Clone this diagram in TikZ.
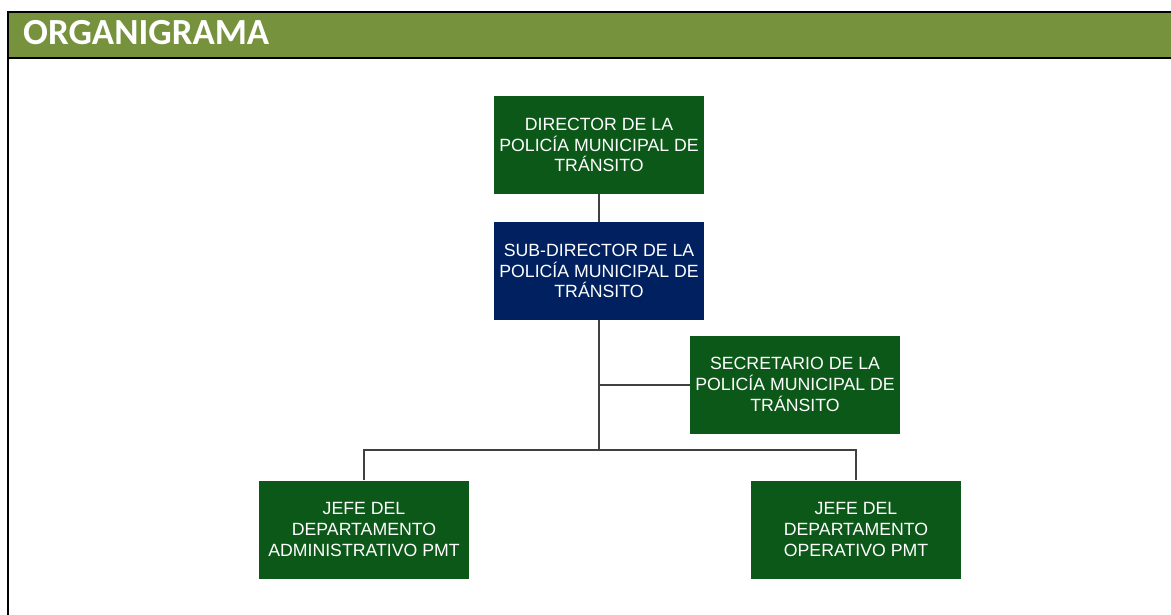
\documentclass[tikz,border=0pt]{standalone}
\usepackage{fontspec}
\setmainfont{Liberation Sans}
\newfontfamily\headfont{Carlito}
\definecolor{headgreen}{RGB}{118,146,60}
\definecolor{boxgreen}{RGB}{12,88,24}
\definecolor{boxnavy}{RGB}{0,32,96}
\definecolor{linegray}{RGB}{64,64,64}
\tikzset{
  orgbox/.style={draw=none, fill=boxgreen, text=white, minimum width=210pt, minimum height=98pt,
    inner sep=0pt, align=center, font=\fontsize{17.7}{20.8}\selectfont},
  navybox/.style={orgbox, fill=boxnavy},
  conn/.style={draw=linegray, line width=2pt}
}
\begin{document}
\begin{tikzpicture}[x=1pt,y=-1pt]
\useasboundingbox (0,0) rectangle (1171,615);
% frame and header
\fill[headgreen] (8,12) rectangle (1171,58);
\draw[black, line width=1.5pt] (1171,12) -- (8,12) -- (8,615);
\draw[black, line width=1.5pt] (8,58) -- (1171,58);
\node[anchor=base west, text=white, font=\headfont\bfseries\fontsize{36.8}{36.8}\selectfont, inner sep=0pt] (title) at (23,45) {ORGANIGRAMA};
% boxes
\node[orgbox] (dir) at (599,145) {DIRECTOR DE LA\\POLICÍA MUNICIPAL DE\\TRÁNSITO};
\node[navybox] (sub) at (599,271) {SUB-DIRECTOR DE LA\\POLICÍA MUNICIPAL DE\\TRÁNSITO};
\node[orgbox] (sec) at (795,384.5) {SECRETARIO DE LA\\POLICÍA MUNICIPAL DE\\TRÁNSITO};
\node[orgbox] (adm) at (364,529.5) {JEFE DEL\\DEPARTAMENTO\\ADMINISTRATIVO PMT};
\node[orgbox] (ope) at (856,529.5) {JEFE DEL\\DEPARTAMENTO\\OPERATIVO PMT};
% connectors
\coordinate (bar) at (599,450);
\coordinate (tee) at (599,384.5);
\draw[conn] (dir.south) -- (sub.north);
\draw[conn] (sub.south) -- (bar);
\draw[conn] (tee) -- (sec.west);
\draw[conn] (adm.north) |- (bar) -| (ope.north);
\end{tikzpicture}
\end{document}
